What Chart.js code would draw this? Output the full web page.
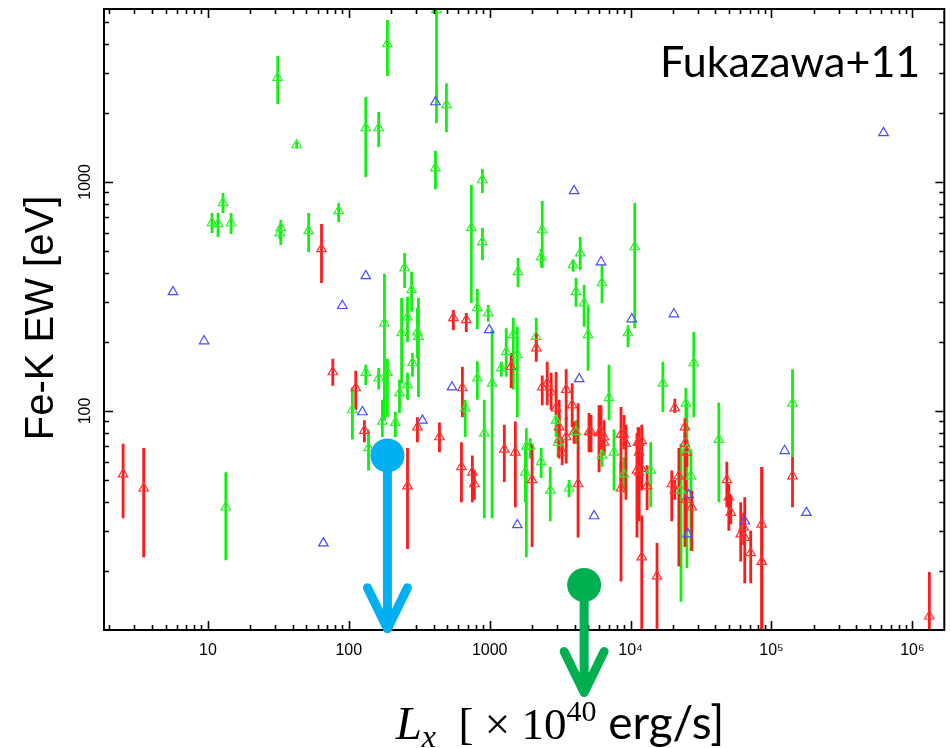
<!DOCTYPE html>
<html>
<head>
<meta charset="utf-8">
<script src="https://cdn.jsdelivr.net/npm/chart.js@4.4.1/dist/chart.umd.min.js"></script>
<style>
  html, body { margin: 0; padding: 0; background: #fff; }
</style>
</head>
<body>
<canvas id="chart" width="951" height="748"></canvas>
<script>
// Fe-K line equivalent width vs. X-ray luminosity (Fukazawa+11)

// red sample: Lx, EW, lower and upper end of the error bar
const redX  = [2.5, 3.5, 64, 77, 112, 129, 307, 440, 261, 630, 753, 778, 1270, 1520, 2000, 4240, 5070, 5970, 6480, 8550,
               8970, 9270, 11100, 11300, 12000, 13100, 15400, 12000, 12000, 20600, 19600, 20600, 22000, 24300, 24300, 25100, 24700, 27200, 48200, 49800,
               51400, 60500, 63500, 64600, 71200, 85300, 85300, 141000, 1320000, 640, 1420, 2140, 2360, 2560, 2730, 2960, 3110, 3490, 3490, 3270,
               3850, 3970, 5240, 6170, 6480, 8550, 11500, 11500, 11500, 552, 682, 3110];
const redY  = [53, 46, 510, 148, 126, 82, 85, 77, 47, 57, 54, 48, 68, 66, 50, 48, 81, 80, 77, 46,
               79, 72, 55, 73, 23, 47, 19, 74, 56, 103, 48, 45, 52, 85, 72, 66, 41, 38, 50, 42,
               36, 29, 31, 28, 24, 32, 22, 52, 12.7, 126, 156, 188, 127, 132, 121, 103, 85, 124, 77, 66,
               106, 81, 81, 81, 73, 79, 73, 66, 54, 255, 250, 75];
const redLo = [34, 23, 362, 129, 101, 73, 73, 66, 25, 40, 40, 41, 49, 38, 25.5, 28, 66, 54, 64, 18,
               68, 41, 28, 60, 10, 37, 10, 64, 45, 98, 33, 41, 21, 77, 25.5, 57, 30, 24.5, 38, 30,
               32, 22, 26, 17.7, 17.7, 10, 10, 38, 10, 94, 126, 164, 106, 106, 101, 96, 75, 91, 59, 58,
               85, 72, 66, 68, 65, 45, 33, 56, 48, 226, 221, 62];
const redHi = [72, 69, 656, 169, 150, 91, 94, 89, 69, 73, 64, 55, 87, 90, 72, 108, 98, 106, 91, 60,
               96, 87, 80, 85, 35, 58, 26.5, 87, 64, 113, 55, 50, 69, 93, 80, 75, 50, 45, 60, 48,
               43, 40, 36, 42, 30, 57, 57, 63, 19.8, 156, 179, 219, 143, 164, 147, 148, 96, 152, 94, 75,
               132, 90, 96, 106, 80, 104, 85, 75, 60, 276, 268, 112];

// green sample
const greenX  = [31.3, 42.7, 132, 163, 188, 412, 419, 493, 12.8, 10.7, 11.8, 14.6, 32.9, 32.4, 51.9, 84.7, 887, 741, 2360, 10700,
                 887, 249, 279, 179, 261, 237, 307, 312, 283, 132, 163, 188, 229, 261, 106, 817, 977, 1590, 2320, 4390,
                 3910, 6270, 4100, 4680, 4990, 9590, 2140, 1470, 1310, 1570, 1040, 1210, 817, 7030, 671, 16950, 28100, 24700, 141000, 42300,
                 13900, 25100, 22800, 26800, 13.4, 138, 173, 214, 916, 1820, 1790, 1940, 2320, 2690, 2960, 3060, 3660, 4100, 6270, 7630, 8970];
const greenY  = [2850, 1450, 1720, 1720, 4010, 1150, 5640, 2170, 810, 662, 656, 662, 630, 599, 611, 747, 1020, 630, 617, 520,
                 547, 421, 338, 242, 257, 219, 221, 211, 162, 147, 139, 147, 120, 130, 101, 282, 268, 405, 470, 489,
                 434, 362, 331, 296, 215, 219, 211, 215, 181, 176, 132, 154, 139, 114, 103, 132, 162, 108, 108, 75,
                 55, 68, 45, 52, 38, 69, 90, 89, 80, 70, 54, 70, 60, 45, 91, 73, 46, 81, 64, 66, 53];
const greenLo = [2190, 1400, 1050, 1420, 2900, 930, 1810, 1650, 732, 599, 575, 593, 531, 560, 494, 669, 895, 296, 421, 230,
                 456, 344, 271, 91, 200, 132, 170, 115, 141, 130, 124, 94, 98, 112, 75, 228, 245, 348, 425, 413,
                 405, 296, 285, 233, 150, 190, 172, 124, 141, 94, 34, 141, 112, 91, 77, 99, 94, 87, 63, 40,
                 38, 20.6, 14.7, 24.5, 22.3, 55, 77, 77, 34, 23, 40, 62, 51, 33, 77, 63, 42, 72, 57, 45, 44];
const greenHi = [3550, 1500, 2350, 2020, 5090, 1370, 6500, 2700, 895, 732, 732, 732, 683, 640, 732, 810, 1140, 970, 826, 810,
                 630, 489, 405, 397, 315, 311, 282, 311, 179, 159, 154, 169, 137, 147, 127, 341, 290, 466, 510, 575,
                 456, 434, 381, 355, 285, 237, 255, 255, 230, 233, 226, 164, 165, 159, 112, 164, 221, 126, 152, 109,
                 73, 108, 72, 68, 54, 83, 112, 99, 112, 84, 70, 76, 69, 57, 98, 83, 50, 91, 75, 83, 63];

// blue sample (no error bars)
const blueX = [5.65, 9.4, 66, 90, 132, 125, 412, 3970, 6170, 10200, 20300, 993, 540, 4320, 5510, 1570, 333, 25900, 25500, 64600,
               124000, 177000, 624000];
const blueY = [331, 202, 26.5, 288, 389, 99, 2234, 914, 447, 252, 265, 226, 127, 138, 34.8, 31.8, 91, 43, 29, 33,
               67, 36, 1637];

// axis ticks
const xTickValues = [10, 100, 1000, 1e4, 1e5, 1e6];
const xTickText   = ['10', '100', '1000', '10⁴', '10⁵', '10⁶'];
const yTickValues = [100, 1000];
const yTickText   = ['100', '1000'];

const toPts = (xs, ys) => xs.map((x, i) => ({x: x, y: ys[i]}));

// vertical error bars, drawn under the triangles
const errorBars = {
    id: 'errorBars',
    beforeDatasetsDraw(chart) {
        const {ctx, chartArea: a, scales: {x, y}} = chart;
        ctx.save();
        ctx.beginPath();
        ctx.rect(a.left, a.top, a.width, a.height);
        ctx.clip();
        ctx.lineWidth = 2.8;
        for (const ds of chart.data.datasets) {
            if (!ds.lo) continue;
            ctx.strokeStyle = ds.barColor;
            ds.data.forEach((p, i) => {
                const px = x.getPixelForValue(p.x);
                ctx.beginPath();
                ctx.moveTo(px, y.getPixelForValue(ds.lo[i]));
                ctx.lineTo(px, y.getPixelForValue(ds.hi[i]));
                ctx.stroke();
            });
        }
        ctx.restore();
    }
};

// box with inward log ticks on all four sides
const frame = {
    id: 'frame',
    afterDraw(chart) {
        const {ctx, chartArea: a, scales: {x, y}} = chart;
        const logTicks = (lo, hi) => {
            const out = [];
            for (let e = Math.floor(Math.log10(lo)); e <= Math.ceil(Math.log10(hi)); e++) {
                for (let m = 1; m < 10; m++) {
                    const v = m * Math.pow(10, e);
                    if (v >= lo && v <= hi) out.push([v, m === 1]);
                }
            }
            return out;
        };
        ctx.save();
        ctx.strokeStyle = '#000';
        ctx.lineWidth = 1.6;
        ctx.beginPath();
        for (const [v, major] of logTicks(x.min, x.max)) {
            const px = Math.round(x.getPixelForValue(v)) + 0.5;
            const len = major ? 9 : 5;
            ctx.moveTo(px, a.bottom); ctx.lineTo(px, a.bottom - len);
            ctx.moveTo(px, a.top); ctx.lineTo(px, a.top + len);
        }
        for (const [v, major] of logTicks(y.min, y.max)) {
            const py = Math.round(y.getPixelForValue(v)) + 0.5;
            const len = major ? 9 : 5;
            ctx.moveTo(a.left, py); ctx.lineTo(a.left + len, py);
            ctx.moveTo(a.right, py); ctx.lineTo(a.right - len, py);
        }
        ctx.stroke();
        ctx.lineWidth = 2;
        ctx.strokeRect(a.left, a.top, a.width, a.height);
        ctx.restore();
    }
};

// slide overlays: labels, axis titles and the two arrow markers
const overlay = {
    id: 'overlay',
    afterDraw(chart) {
        const {ctx, chartArea: a, scales: {x, y}} = chart;
        ctx.save();
        ctx.fillStyle = '#000';

        // rotated y tick labels
        ctx.font = '16px "Liberation Sans", Arial, sans-serif';
        ctx.textAlign = 'center';
        ctx.textBaseline = 'alphabetic';
        yTickValues.forEach((v, i) => {
            ctx.save();
            ctx.translate(a.left - 14, y.getPixelForValue(v));
            ctx.rotate(-Math.PI / 2);
            ctx.fillText(yTickText[i], 0, 0);
            ctx.restore();
        });

        // y axis title
        ctx.save();
        ctx.translate(53, 318);
        ctx.rotate(-Math.PI / 2);
        ctx.font = '40px "Liberation Sans", Arial, sans-serif';
        ctx.fillText('Fe-K EW [eV]', 0, 0);
        ctx.restore();

        // reference tag
        ctx.font = '43px Lato, "Liberation Sans", sans-serif';
        ctx.textAlign = 'left';
        ctx.fillText('Fukazawa+11', 660, 77);

        // x axis title with sub/superscripts
        const runs = [
            {t: 'L', f: 'italic 47px "Liberation Serif", serif', dy: 0},
            {t: 'x', f: 'italic 32px "Liberation Serif", serif', dy: 8},
            {t: '  [ × 10', f: '45px "Liberation Serif", serif', dy: 0},
            {t: '40', f: '30px "Liberation Serif", serif', dy: -18},
            {t: ' erg/s]', f: '46px Lato, "Liberation Sans", sans-serif', dy: 0}
        ];
        let total = 0;
        for (const r of runs) { ctx.font = r.f; r.w = ctx.measureText(r.t).width; total += r.w; }
        let cx = 560 - total / 2;
        for (const r of runs) {
            ctx.font = r.f;
            ctx.fillText(r.t, cx, 739 + r.dy);
            cx += r.w;
        }

        // circle + arrow markers (positions in data units)
        const markers = [
            {lx: 188, top: 64, tip: 11.2, color: '#00b0f0'},
            {lx: 4680, top: 17.4, tip: 5.9, color: '#00b050'}
        ];
        for (const m of markers) {
            const px = x.getPixelForValue(m.lx);
            const py0 = y.getPixelForValue(m.top);
            const py1 = y.getPixelForValue(m.tip);
            ctx.strokeStyle = m.color;
            ctx.fillStyle = m.color;
            ctx.lineWidth = 9;
            ctx.lineCap = 'round';
            ctx.lineJoin = 'round';
            ctx.beginPath();
            ctx.moveTo(px, py0);
            ctx.lineTo(px, py1);
            ctx.moveTo(px - 20, py1 - 41);
            ctx.lineTo(px, py1);
            ctx.lineTo(px + 20, py1 - 41);
            ctx.stroke();
            ctx.beginPath();
            ctx.arc(px, py0, 17, 0, Math.PI * 2);
            ctx.fill();
        }
        ctx.restore();
    }
};

new Chart(document.getElementById('chart'), {
    type: 'scatter',
    data: {
        datasets: [
            {
                data: toPts(greenX, greenY), lo: greenLo, hi: greenHi, barColor: '#10f010',
                pointStyle: 'triangle', pointRadius: 5.5, borderWidth: 1.2,
                borderColor: '#2cf02c', backgroundColor: 'rgba(0,0,0,0)'
            },
            {
                data: toPts(redX, redY), lo: redLo, hi: redHi, barColor: '#ff1a1a',
                pointStyle: 'triangle', pointRadius: 5.5, borderWidth: 1.2,
                borderColor: '#ff3030', backgroundColor: 'rgba(0,0,0,0)'
            },
            {
                data: toPts(blueX, blueY),
                pointStyle: 'triangle', pointRadius: 5.5, borderWidth: 1.2,
                borderColor: '#4a4aff', backgroundColor: 'rgba(0,0,0,0)'
            }
        ]
    },
    options: {
        responsive: false,
        animation: false,
        layout: { padding: { top: 9, right: 5, left: 0, bottom: 0 } },
        plugins: { legend: { display: false }, tooltip: { enabled: false } },
        scales: {
            x: {
                type: 'logarithmic', min: 1.83, max: 1.685e6,
                grid: { display: false, drawTicks: false },
                border: { display: false },
                afterBuildTicks: s => { s.ticks = xTickValues.map(v => ({ value: v })); },
                afterFit: s => { s.height = 118; },
                ticks: {
                    autoSkip: false, maxRotation: 0, minRotation: 0, padding: 11, color: '#000',
                    font: { family: '"Liberation Sans", Arial, sans-serif', size: 16 },
                    callback: (v, i) => xTickText[i]
                }
            },
            y: {
                type: 'logarithmic', min: 11.06, max: 5690,
                grid: { display: false, drawTicks: false },
                border: { display: false },
                ticks: { display: false },
                afterFit: s => { s.width = 104; }
            }
        }
    },
    plugins: [errorBars, frame, overlay]
});
</script>
</body>
</html>
